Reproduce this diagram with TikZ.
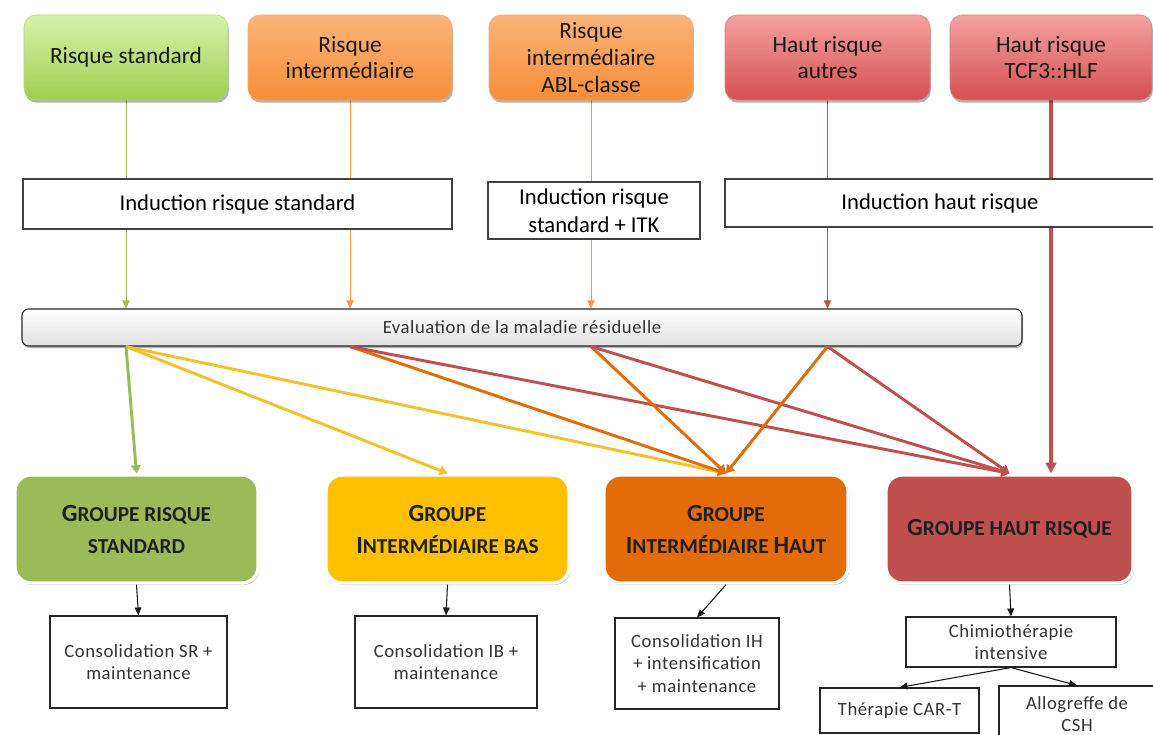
\documentclass[tikz,border=0pt]{standalone}
\usepackage{fontspec}
\setmainfont{Carlito}
\newfontfamily\thinfont[LetterSpace=3.0]{Carlito}
\usetikzlibrary{arrows.meta,shadows}

\definecolor{sgreen}{HTML}{9BBB59}
\definecolor{syellow}{HTML}{F2C12E}
\definecolor{sorange}{HTML}{E36C09}
\definecolor{sred}{HTML}{C0504D}
\definecolor{lorange}{HTML}{F79646}
\definecolor{gyellow}{HTML}{FFC000}
\definecolor{ggreen}{HTML}{9BBB59}
\definecolor{gorange}{HTML}{E36C09}
\definecolor{gred}{HTML}{C0504D}

\newcommand\capA[1]{{\fontsize{18.5}{24}\selectfont #1}}

\pgfdeclarelayer{bg}
\pgfsetlayers{bg,main}

\begin{document}
\begin{tikzpicture}[x=0.75pt,y=-0.75pt,
  topbox/.style={rounded corners=9pt, minimum height=85*0.75pt, inner sep=0pt,
    align=center, font=\fontsize{17.5}{20}\selectfont, text=black!90,
    drop shadow={shadow xshift=0.6pt,shadow yshift=-2pt,opacity=0.3,fill=black}},
  tgreen/.style={top color={rgb,255:red,216;green,242;blue,172}, bottom color={rgb,255:red,156;green,207;blue,79},
    draw={rgb,255:red,180;green,212;blue,130}},
  torange/.style={top color={rgb,255:red,251;green,180;blue,122}, bottom color={rgb,255:red,247;green,142;blue,56},
    draw={rgb,255:red,240;green,170;blue,110}},
  tred/.style={top color={rgb,255:red,244;green,160;blue,160}, bottom color={rgb,255:red,214;green,80;blue,80},
    draw={rgb,255:red,220;green,130;blue,130}},
  indbox/.style={draw=black!75, line width=0.8pt, fill=white, inner sep=0pt, align=center,
    font=\fontsize{17}{21}\selectfont},
  evbox/.style={draw=black!85, line width=0.8pt, rounded corners=5pt, inner sep=0pt,
    top color=white, bottom color=black!12,
    font=\fontsize{14}{16}\thinfont, text=black!80,
    drop shadow={shadow xshift=0.8pt,shadow yshift=-1.5pt,opacity=0.3,fill=black}},
  grpbox/.style={rounded corners=12pt, draw=white, line width=2.5pt, inner sep=0pt, align=center,
    font=\fontsize{16}{24}\selectfont\bfseries, text=black!88,
    drop shadow={shadow xshift=1pt,shadow yshift=-1.5pt,opacity=0.28,fill=black}},
  consbox/.style={draw=black!85, line width=0.8pt, fill=white, inner sep=0pt, align=center,
    font=\fontsize{14}{17}\thinfont, text=black!80},
  vline/.style={line width=0.75pt, -{Triangle[length=6pt,width=5.5pt]}},
  evarrow/.style={line width=2.2pt, -{Triangle[length=6pt,width=7.5pt]}},
  blk/.style={draw=black!90, line width=0.8pt, -{Triangle[length=6pt,width=5pt]}}
]
\clip (0,0) rectangle (1153,735);

% risk categories at diagnosis
\node[topbox,tgreen, minimum width=204*0.75pt] (rs) at (126,57.5) {Risque standard};
\node[topbox,torange, minimum width=204*0.75pt] (ri) at (350,57.5) {Risque\\intermédiaire};
\node[topbox,torange, minimum width=204*0.75pt] (ria) at (591,57.5) {Risque\\intermédiaire\\ABL-classe};
\node[topbox,tred, minimum width=205*0.75pt] (hra) at (827.5,57.5) {Haut risque\\autres};
\node[topbox,tred, minimum width=202*0.75pt] (hrt) at (1051,57.5) {Haut risque\\TCF3::HLF};

% induction treatments
\node[indbox, minimum width=429*0.75pt, minimum height=50*0.75pt] (irs) at (237.5,204) {Induction risque standard};
\node[indbox, minimum width=212*0.75pt, minimum height=57*0.75pt] (iitk) at (594,210.5) {Induction risque\\standard + ITK};
\node[indbox, minimum width=430*0.75pt, minimum height=48*0.75pt] (ihr) at (940,203) {Induction haut risque};

% residual disease evaluation
\node[evbox, minimum width=1000*0.75pt, minimum height=37*0.75pt] (ev) at (522,327.5) {Evaluation de la maladie résiduelle};

% final risk groups
\node[grpbox, fill=ggreen, minimum width=243*0.75pt, minimum height=108*0.75pt] (gsr) at (136.5,529)
  {\capA{G}ROUPE RISQUE\\STANDARD};
\node[grpbox, fill=gyellow, minimum width=243*0.75pt, minimum height=108*0.75pt] (gib) at (447.5,529)
  {\capA{G}ROUPE\\\capA{I}NTERMÉDIAIRE BAS};
\node[grpbox, fill=gorange, minimum width=244*0.75pt, minimum height=108*0.75pt] (gih) at (726,529)
  {\capA{G}ROUPE\\\capA{I}NTERMÉDIAIRE \capA{H}AUT};
\node[grpbox, fill=gred, minimum width=247*0.75pt, minimum height=108*0.75pt] (ghr) at (1009.5,529)
  {\capA{G}ROUPE HAUT RISQUE};

% post-induction treatments
\node[consbox, minimum width=177*0.75pt, minimum height=92*0.75pt] (csr) at (138.5,662) {Consolidation SR +\\maintenance};
\node[consbox, minimum width=182*0.75pt, minimum height=92*0.75pt] (cib) at (446,662) {Consolidation IB +\\maintenance};
\node[consbox, minimum width=164*0.75pt, minimum height=91*0.75pt] (cih) at (697,663.5) {Consolidation IH\\+ intensification\\+ maintenance};
\node[consbox, minimum width=210*0.75pt, minimum height=50*0.75pt] (chi) at (1011,642) {Chimiothérapie\\intensive};
\node[consbox, minimum width=159*0.75pt, minimum height=45*0.75pt] (cart) at (899.5,710.5) {Thérapie CAR-T};
\node[consbox, minimum width=156*0.75pt, minimum height=56*0.75pt] (allo) at (1077,714) {Allogreffe de\\CSH};

% vertical connectors behind the induction boxes
\begin{pgfonlayer}{bg}
  \draw[vline, sgreen] (rs.south) -- (rs.south |- ev.north);
  \draw[vline, lorange] (ri.south) -- (ri.south |- ev.north);
  \draw[vline, lorange] (ria.south) -- (ria.south |- ev.north);
  \draw[vline, sred] (hra.south) -- (hra.south |- ev.north);
  \draw[sred, line width=3pt, -{Triangle[length=8pt,width=8pt]}] (hrt.south) -- (hrt.south |- ghr.north);
\end{pgfonlayer}

% assignment after residual disease evaluation
\draw[evarrow, syellow] (rs.south |- ev.south) -- (gib.north);
\draw[evarrow, syellow] (rs.south |- ev.south) -- (gih.north);
\draw[evarrow, sgreen] (rs.south |- ev.south) -- (gsr.north);
\draw[evarrow, sorange] (ri.south |- ev.south) -- (gih.north);
\draw[evarrow, sred] (ri.south |- ev.south) -- (ghr.north);
\draw[evarrow, sorange] (ria.south |- ev.south) -- (gih.north);
\draw[evarrow, sred] (ria.south |- ev.south) -- (ghr.north);
\draw[evarrow, sorange] (hra.south |- ev.south) -- (gih.north);
\draw[evarrow, sred] (hra.south |- ev.south) -- (ghr.north);

% treatment after grouping
\draw[blk] (gsr.south) -- (csr.north);
\draw[blk] (gib.south) -- (cib.north);
\draw[blk] (gih.south) -- (cih.north);
\draw[blk] (ghr.south) -- (chi.north);
\draw[blk] (chi.south) -- (cart.north);
\draw[blk] (chi.south) -- (allo.north);
\end{tikzpicture}
\end{document}
